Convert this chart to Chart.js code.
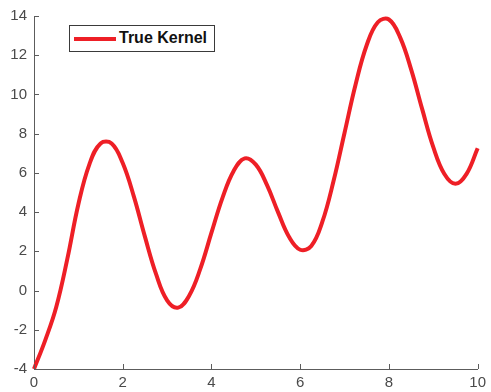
<!DOCTYPE html>
<html>
<head>
<meta charset="utf-8">
<script src="https://cdn.jsdelivr.net/npm/chart.js@4/dist/chart.umd.min.js"></script>
<style>
  html, body { margin: 0; padding: 0; background: #fff; }
  #wrap { position: relative; width: 491px; height: 392px; }
  #legend {
    position: absolute; left: 69px; top: 25px; width: 146px; height: 27px;
    box-sizing: border-box; border: 1px solid #3a3a3a; background: #fff;
  }
  #legend .swatch {
    position: absolute; left: 4px; top: 11px; width: 42px; height: 4px; background: #ee1f26;
  }
  #legend .label {
    position: absolute; left: 49px; top: 3px; font: bold 16px "Liberation Sans", Arial, Helvetica, sans-serif;
    color: #111; line-height: 18px; white-space: nowrap;
  }
</style>
</head>
<body>
<div id="wrap">
  <canvas id="c" width="491" height="392"></canvas>
  <div id="legend"><span class="swatch"></span><span class="label">True Kernel</span></div>
</div>
<script>
// ---- data ----
const seriesName = "True Kernel";
const xValues = [0, 0.25, 0.5, 0.75, 1.0, 1.25, 1.5, 1.75, 2.0, 2.25, 2.5, 2.75, 3.0, 3.25, 3.5, 3.75, 4.0, 4.25, 4.5, 4.75, 5.0, 5.25, 5.5, 5.75, 6.0, 6.25, 6.5, 6.75, 7.0, 7.25, 7.5, 7.75, 8.0, 8.25, 8.5, 8.75, 9.0, 9.25, 9.5, 9.75, 10.0];
const yValues = [-4.0, -2.55, -0.85, 1.6, 4.4, 6.45, 7.5, 7.5, 6.5, 4.8, 2.75, 0.85, -0.5, -0.87, -0.25, 1.12, 2.95, 4.74, 6.1, 6.74, 6.42, 5.39, 4.0, 2.73, 2.08, 2.27, 3.51, 5.57, 8.05, 10.52, 12.52, 13.68, 13.82, 12.92, 11.28, 9.25, 7.31, 5.94, 5.44, 5.95, 7.26];
const xTicks = [0, 2, 4, 6, 8, 10];
const yTicks = [-4, -2, 0, 2, 4, 6, 8, 10, 12, 14];

const points = xValues.map((x, i) => ({ x: x, y: yValues[i] }));
const AXIS_COLOR = '#5c5c5c';
const TEXT_COLOR = '#4a4a4a';
const FONT = { family: '"Liberation Sans", Arial, Helvetica, sans-serif', size: 15 };

// draws short inward tick marks at the scale's own tick positions
const inwardTicks = {
  id: 'inwardTicks',
  afterDraw(chart) {
    const ctx = chart.ctx;
    const xs = chart.scales.x, ys = chart.scales.y;
    const len = 5;
    ctx.save();
    ctx.strokeStyle = AXIS_COLOR;
    ctx.lineWidth = 1;
    ctx.beginPath();
    xs.ticks.forEach(t => {
      const px = Math.round(xs.getPixelForValue(t.value)) + 0.5;
      ctx.moveTo(px, ys.bottom);
      ctx.lineTo(px, ys.bottom - len);
    });
    ys.ticks.forEach(t => {
      const py = Math.round(ys.getPixelForValue(t.value)) + 0.5;
      ctx.moveTo(xs.left, py);
      ctx.lineTo(xs.left + len, py);
    });
    ctx.stroke();
    ctx.restore();
  }
};

new Chart(document.getElementById('c'), {
  type: 'line',
  data: {
    datasets: [{
      label: seriesName,
      data: points,
      borderColor: '#ee1f26',
      borderWidth: 4,
      pointRadius: 0,
      fill: false,
      tension: 0.4,
      clip: false
    }]
  },
  options: {
    responsive: false,
    animation: false,
    layout: { padding: { top: 14, right: 8, left: 0, bottom: 0 } },
    plugins: { legend: { display: false }, tooltip: { enabled: false } },
    scales: {
      x: {
        type: 'linear', min: 0, max: 10,
        afterBuildTicks: s => { s.ticks = xTicks.map(v => ({ value: v })); },
        afterFit: s => { s.height = 23; },
        grid: { display: true, drawOnChartArea: false, drawTicks: false },
        border: { display: true, color: AXIS_COLOR, width: 1 },
        ticks: { color: TEXT_COLOR, font: FONT, padding: 5, maxRotation: 0, autoSkip: false }
      },
      y: {
        type: 'linear', min: -4, max: 14,
        afterBuildTicks: s => { s.ticks = yTicks.map(v => ({ value: v })); },
        afterFit: s => { s.width = 34; },
        grid: { display: true, drawOnChartArea: false, drawTicks: false },
        border: { display: true, color: AXIS_COLOR, width: 1 },
        ticks: { color: TEXT_COLOR, font: FONT, padding: 7, autoSkip: false }
      }
    }
  },
  plugins: [inwardTicks]
});
</script>
</body>
</html>
